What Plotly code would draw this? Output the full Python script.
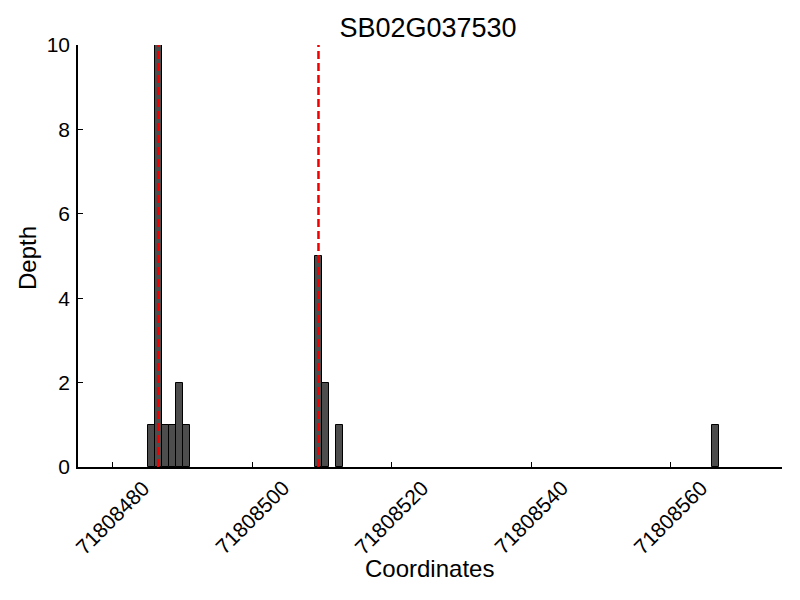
import plotly.graph_objects as go

title = "SB02G037530"
coords = [71808485, 71808486, 71808487, 71808488, 71808489, 71808490,
          71808509, 71808510, 71808512, 71808566]
depths = [1, 10, 1, 1, 2, 1, 5, 2, 1, 1]
snp_positions = [71808486, 71808509]
x_ticks = [71808480, 71808500, 71808520, 71808540, 71808560]
y_ticks = [0, 2, 4, 6, 8, 10]

FONT = "Liberation Sans, Arial, sans-serif"

# plot area in pixels
L, R, T, B = 78, 782, 45, 467
W, H = 800, 600
PW, PH = R - L, B - T


def px_x(px):
    return (px - L) / PW


def px_y(py):
    return (B - py) / PH


fig = go.Figure()
fig.add_trace(go.Bar(
    x=coords, y=depths, width=1, offset=0,
    marker=dict(color="#4d4d4d", line=dict(color="black", width=1)),
    showlegend=False, hoverinfo="x+y",
))

for s in snp_positions:
    fig.add_shape(type="line", x0=s + 0.5, x1=s + 0.5, y0=0, y1=10,
                  xref="x", yref="y",
                  line=dict(color="#ee0000", width=2.5, dash="8px,4px"), layer="above")

fig.update_layout(
    width=W, height=H,
    margin=dict(l=L, r=W - R, t=T, b=H - B),
    plot_bgcolor="white", paper_bgcolor="white",
    font=dict(family=FONT, size=21, color="black"),
    title=dict(text=title, x=428 / W, xanchor="center", y=1 - 28 / H, yanchor="middle",
               yref="container", font=dict(size=27, family=FONT, color="black")),
    bargap=0,
)
fig.update_xaxes(
    range=[71808475, 71808576], tickvals=x_ticks, showticklabels=False,
    ticks="inside", ticklen=5, tickcolor="black", tickwidth=1,
    showline=True, linecolor="black", linewidth=1.5, showgrid=False, zeroline=False,
)
fig.update_yaxes(
    range=[0, 10], tickvals=y_ticks, ticks="inside", ticklen=5, tickcolor="black", tickwidth=1,
    showline=True, linecolor="black", linewidth=1.5, showgrid=False, zeroline=False,
    tickfont=dict(size=21, family=FONT), ticklabelstandoff=2,
)
# rotated x tick labels, centred under each tick (bounding box centred)
for v in x_ticks:
    fig.add_annotation(text=str(v), x=v, xref="x", y=px_y(474), yref="paper",
                       showarrow=False, textangle=-45, xanchor="center", yanchor="top",
                       font=dict(size=21, family=FONT, color="black"))
fig.add_annotation(text="Coordinates", x=px_x(429), xref="paper", y=px_y(568), yref="paper",
                   showarrow=False, font=dict(size=24, family=FONT), yanchor="middle",
                   xanchor="center")
fig.add_annotation(text="Depth", x=px_x(27), xref="paper", y=px_y(258), yref="paper",
                   showarrow=False, font=dict(size=24, family=FONT), textangle=-90,
                   xanchor="center", yanchor="middle")
fig.write_html("out.html", config={"displayModeBar": False},
               post_script="document.body.style.margin='0px';")
